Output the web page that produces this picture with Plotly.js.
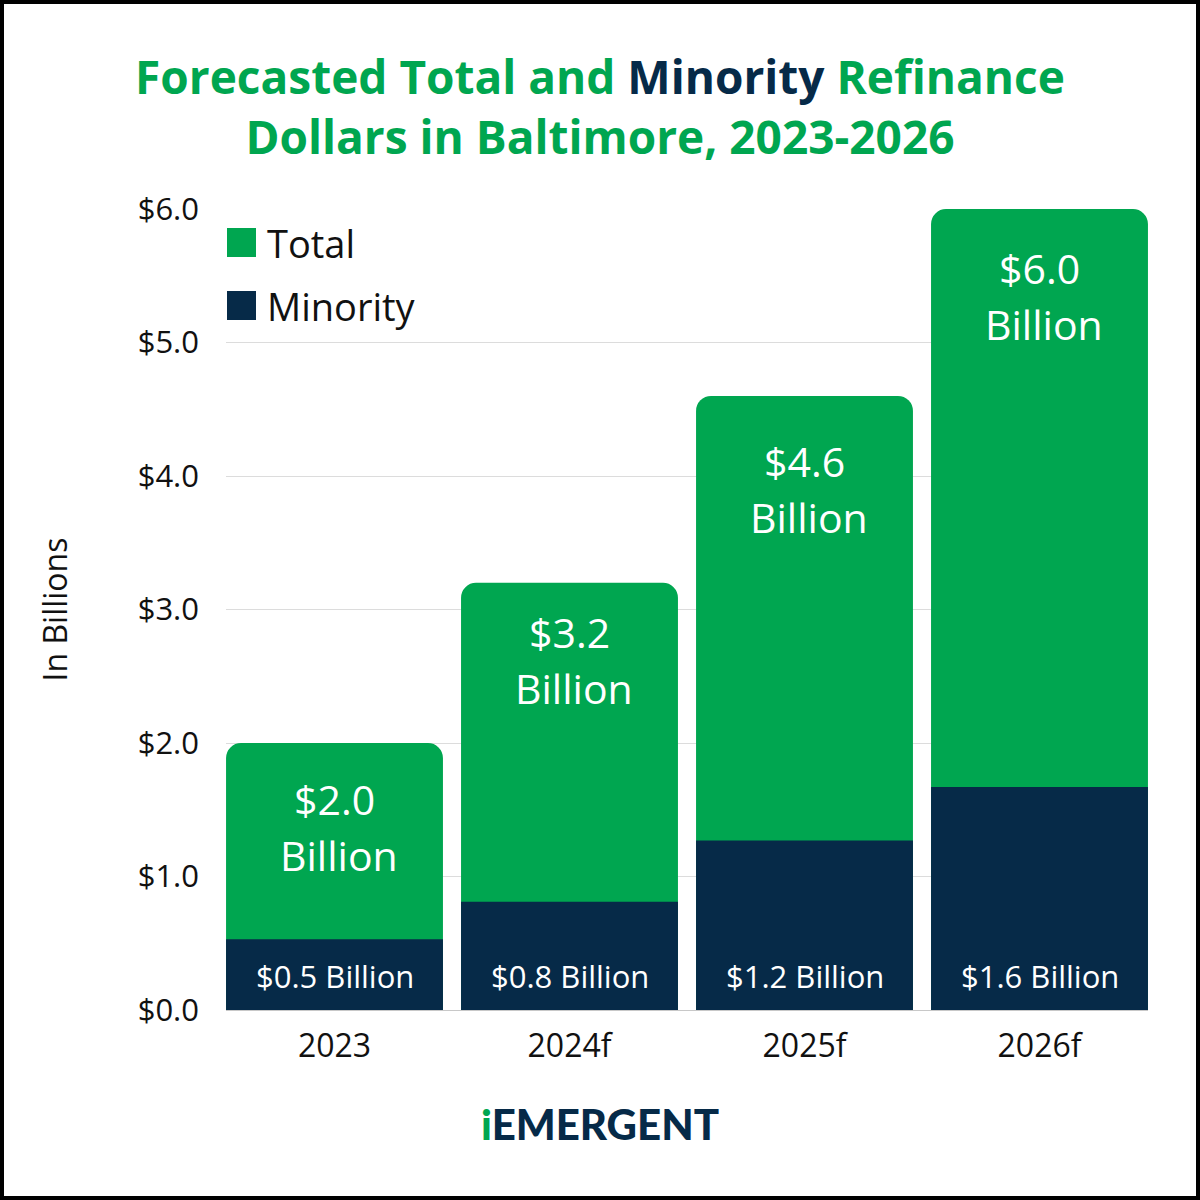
<!DOCTYPE html>
<html>
<head>
<meta charset="utf-8">
<script src="https://cdn.plot.ly/plotly-3.0.1.min.js"></script>
<style>
  html, body { margin: 0; padding: 0; background: #ffffff; }
  #wrap { position: relative; width: 1200px; height: 1200px; }
  #chart { width: 1200px; height: 1200px; }
  #frame { position: absolute; left: 0; top: 0; width: 1200px; height: 1200px; box-sizing: border-box; border: 4px solid #000; pointer-events: none; }
</style>
</head>
<body>
<div id="wrap"><div id="chart"></div><div id="frame"></div></div>
<script>
// ---- data ----
const categories = ['2023', '2024f', '2025f', '2026f'];
const totalValues = [2.0, 3.2, 4.6, 6.0];
const minorityValues = [0.53, 0.81, 1.27, 1.67];
const minorityLabels = ['$0.5 Billion', '$0.8 Billion', '$1.2 Billion', '$1.6 Billion'];
const seriesNames = ['Total', 'Minority'];
const yTickVals = [0, 1, 2, 3, 4, 5, 6];
const yTickText = ['$0.0', '$1.0', '$2.0', '$3.0', '$4.0', '$5.0', '$6.0'];

// ---- styles ----
const GREEN = '#00A650';
const NAVY = '#062A48';
const FONT = 'Open Sans, Noto Sans, sans-serif';
const totalLabelOffsets = [-56, -49, -65, -59];

const traces = [
  {
    type: 'bar', name: seriesNames[0], x: categories, y: totalValues,
    marker: { color: GREEN, cornerradius: 15, line: { width: 0 } },
    hoverinfo: 'none'
  },
  {
    type: 'bar', name: seriesNames[1], x: categories, y: minorityValues,
    marker: { color: NAVY, line: { width: 0 } },
    hoverinfo: 'none'
  }
];

const annotations = [];
categories.forEach((c, i) => {
  annotations.push({
    x: i, y: totalValues[i], xref: 'x', yref: 'y', showarrow: false,
    text: '$' + totalValues[i].toFixed(1), yanchor: 'middle', yshift: totalLabelOffsets[i],
    font: { family: FONT, size: 41, color: '#ffffff' }
  });
  annotations.push({
    x: i, y: totalValues[i], xref: 'x', yref: 'y', showarrow: false,
    text: 'Billion', yanchor: 'middle', yshift: totalLabelOffsets[i] - 56, xshift: 4,
    font: { family: FONT, size: 41, color: '#ffffff' }
  });
  annotations.push({
    x: i, y: 0, xref: 'x', yref: 'y', showarrow: false,
    text: minorityLabels[i], yanchor: 'middle', yshift: 34,
    font: { family: FONT, size: 31, color: '#ffffff' }
  });
});

// plot area pixel helpers (margins below)
const L = 226, R = 52, T = 209, B = 190, W = 1200, H = 1200;
const px = v => (v - L) / (W - L - R);
const py = v => (H - B - v) / (H - T - B);

// custom legend
const legendColors = [GREEN, NAVY];
const legendTops = [228, 291];
const shapes = [];
seriesNames.forEach((n, i) => {
  shapes.push({
    type: 'rect', xref: 'paper', yref: 'paper',
    x0: px(227), x1: px(256), y0: py(legendTops[i]), y1: py(legendTops[i] + 29),
    fillcolor: legendColors[i], line: { width: 0 }
  });
  annotations.push({
    xref: 'paper', yref: 'paper', x: px(265), y: py(legendTops[i] + 15),
    xanchor: 'left', yanchor: 'middle', showarrow: false, text: n,
    font: { family: FONT, size: 38, color: '#111111' }
  });
});

// logo
annotations.push({
  xref: 'paper', yref: 'paper', x: px(600), y: py(1124), xanchor: 'center', yanchor: 'middle',
  showarrow: false,
  text: '<span style="color:' + GREEN + '">i</span>EMERGENT',
  font: { family: 'Lato, Open Sans, sans-serif', size: 42, color: NAVY, weight: 900 }
});

const layout = {
  width: W, height: H,
  margin: { l: L, r: R, t: T, b: B },
  paper_bgcolor: '#ffffff', plot_bgcolor: '#ffffff',
  barmode: 'overlay', bargap: 0.077,
  showlegend: false,
  title: {
    text: 'Forecasted Total and <span style="color:' + NAVY + '">Minority</span> Refinance<br>Dollars in Baltimore, 2023-2026',
    x: 0.5, xref: 'container', xanchor: 'center',
    y: 1 - 94 / 1200, yref: 'container', yanchor: 'middle',
    font: { family: FONT, size: 46, color: GREEN, weight: 'bold' }
  },
  xaxis: {
    type: 'category', range: [-0.4617, 3.4617], showgrid: false, zeroline: false,
    showline: false, ticks: '', ticklabelstandoff: 14,
    tickfont: { family: FONT, size: 32, color: '#111111' }, fixedrange: true
  },
  yaxis: {
    range: [0, 6], tickvals: yTickVals, ticktext: yTickText,
    showgrid: true, gridcolor: '#dcdcdc', gridwidth: 1,
    zeroline: true, zerolinecolor: '#c8c8c8', zerolinewidth: 1,
    showline: false, ticks: '', ticklabelstandoff: 26,
    tickfont: { family: FONT, size: 31, color: '#111111' },
    title: { text: 'In Billions', standoff: 60, font: { family: FONT, size: 32, color: '#111111' } },
    automargin: false, fixedrange: true
  },
  annotations: annotations,
  shapes: shapes
};

Plotly.newPlot('chart', traces, layout, { displayModeBar: false, staticPlot: true });
</script>
</body>
</html>
